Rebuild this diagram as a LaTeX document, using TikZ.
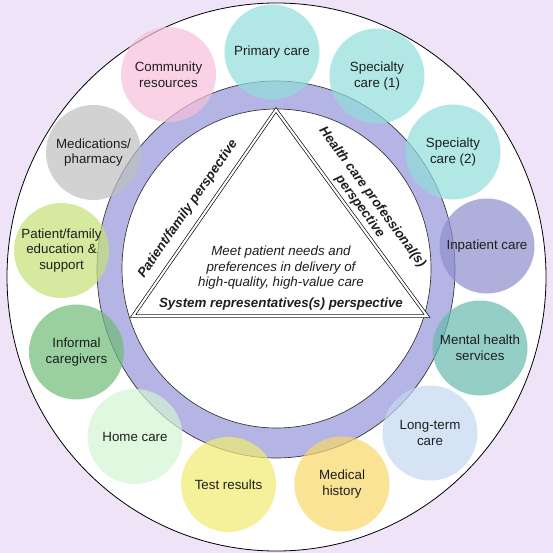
\documentclass[tikz,border=0pt]{standalone}
\usepackage{fontspec}
\setmainfont{Liberation Sans}
\definecolor{bgc}{RGB}{239,228,247}
\definecolor{ringc}{RGB}{180,181,228}
\definecolor{txt}{RGB}{30,30,30}
\definecolor{cprim}{RGB}{145,222,219}
\definecolor{cinp}{RGB}{142,142,205}
\definecolor{cment}{RGB}{105,184,176}
\definecolor{clong}{RGB}{198,216,241}
\definecolor{cmed}{RGB}{248,216,105}
\definecolor{ctest}{RGB}{241,236,112}
\definecolor{chome}{RGB}{212,245,212}
\definecolor{cinf}{RGB}{112,188,119}
\definecolor{cpat}{RGB}{198,226,119}
\definecolor{cmeds}{RGB}{191,191,191}
\definecolor{ccom}{RGB}{248,191,219}
\tikzset{
  bubble/.style={circle, minimum size=71.25pt, inner sep=0pt, align=center,
    fill opacity=0.7, text opacity=1, text=txt,
    font=\fontsize{10}{11.8}\selectfont},
  edgelbl/.style={font=\fontsize{10}{11.6}\bfseries\itshape\selectfont, text=txt, align=center, inner sep=0pt},
  tri/.style={draw=black, line width=0.5pt, double=white, double distance=1.6pt, line join=miter},
}
\begin{document}
\begin{tikzpicture}[x=0.75pt,y=-0.75pt]
\useasboundingbox (0,0) rectangle (553,553);
\fill[bgc] (0,0) rectangle (553,553);
% outer white circle
\draw[fill=white, line width=0.6pt] (276.5,277) ellipse [x radius=269.5, y radius=274];
% ring
\draw[fill=ringc, draw=black!80, line width=0.5pt] (276,269.5) ellipse [x radius=179, y radius=188.5];
\draw[fill=white, draw=black!80, line width=0.5pt] (276.5,268.5) ellipse [x radius=154.5, y radius=159.5];
% triangle
\coordinate (ta) at (276,110);
\coordinate (tl) at (133,316);
\coordinate (tr) at (427,316);
\draw[tri] (ta) -- (tr) -- (tl) -- cycle;
% texts
\node[edgelbl, rotate=55.3] (pf) at (188,209) {Patient/family perspective};
\node[edgelbl, rotate=-53.8] (hc) at (366,202) {Health care professional(s)\\perspective};
\node[edgelbl] (sr) at (281,304) {System representatives(s) perspective};
\node[align=center, text=txt, inner sep=0pt, font=\fontsize{10}{11.6}\itshape\selectfont] (mid) at (281,268) {Meet patient needs and\\preferences in delivery of\\high-quality, high-value care};
% bubbles
\node[bubble, fill=cprim] (c1) at (272,52) {Primary care};
\node[bubble, fill=cprim] (c2) at (377,76) {Specialty\\care (1)};
\node[bubble, fill=cprim] (c3) at (453,152) {Specialty\\care (2)};
\node[bubble, fill=cinp] (c4) at (487,246) {Inpatient care};
\node[bubble, fill=cment] (c5) at (480,348) {Mental health\\services};
\node[bubble, fill=clong] (c6) at (430,433) {Long-term\\care};
\node[bubble, fill=cmed] (c7) at (342,484) {Medical\\history};
\node[bubble, fill=ctest] (c8) at (228.5,484.5) {Test results};
\node[bubble, fill=chome] (c9) at (135,436.5) {Home care};
\node[bubble, fill=cinf] (c10) at (76.5,352) {Informal\\caregivers};
\node[bubble, fill=cpat] (c11) at (61.5,250.5) {Patient/family\\education \&\\support};
\node[bubble, fill=cmeds] (c12) at (93.5,152.5) {Medications/\\pharmacy};
\node[bubble, fill=ccom] (c13) at (168.5,74.5) {Community\\resources};
\end{tikzpicture}
\end{document}
